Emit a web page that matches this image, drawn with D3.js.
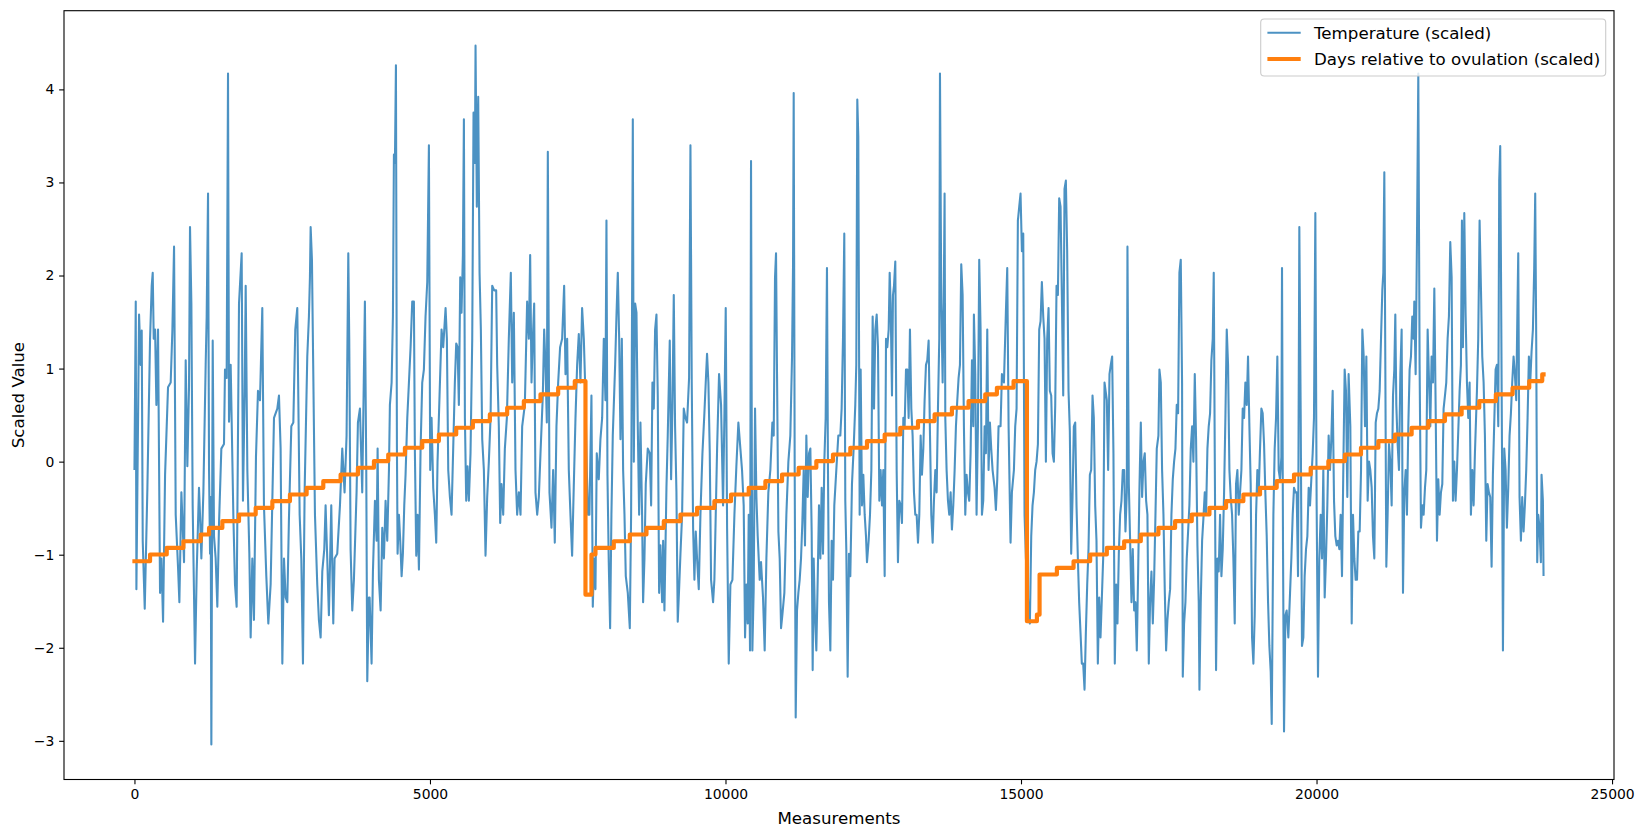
<!DOCTYPE html>
<html>
<head>
<meta charset="utf-8">
<script src="https://cdn.jsdelivr.net/npm/d3@7"></script>
<style>
  body { margin: 0; background: #fff; }
  svg { display: block; }
  text { font-family: "DejaVu Sans", sans-serif; fill: #000; }
</style>
</head>
<body>
<svg id="chart" width="1641" height="837"></svg>
<script>
// temperature readings: [measurement index, scaled temperature]
var tempReadings = [
[0,-0.09],[22,1.72],[33,-1.37],[78,1.58],[106,1.04],[123,1.41],[140,-0.85],[174,-1.58],[219,-0.28],[264,1.32],[292,1.89],[309,2.03],[326,1.32],[349,1.42],[371,0.61],[399,1.42],[433,-1.41],[456,-1.04],[484,-1.72],[518,-0.14],[568,0.80],[613,0.85],[642,1.42],[670,2.31],[698,-0.57],[737,-1.13],[760,-1.51],[794,-0.33],[839,-1.08],[867,1.09],[895,-0.05],[923,0.80],[940,2.52],[963,1.70],[985,-0.47],[1025,-2.17],[1053,-1.18],[1092,-0.28],[1109,-0.57],[1132,-1.04],[1166,-0.33],[1205,1.04],[1222,1.56],[1245,2.88],[1262,-0.09],[1279,-0.99],[1290,-0.38],[1301,-3.04],[1324,1.30],[1346,-0.80],[1374,-1.04],[1402,-1.56],[1431,-0.66],[1470,0.14],[1515,0.19],[1532,0.99],[1560,0.90],[1583,4.17],[1600,0.43],[1628,1.04],[1673,-0.57],[1701,-1.32],[1729,-1.56],[1769,1.70],[1814,2.24],[1836,-0.42],[1865,0.76],[1882,1.89],[1910,-0.09],[1944,-0.99],[1966,-1.89],[1994,-1.04],[2022,-1.70],[2056,0.05],[2090,0.76],[2124,0.66],[2163,1.65],[2191,-0.47],[2231,-1.23],[2265,-1.74],[2304,-1.32],[2361,0.47],[2417,0.57],[2445,0.71],[2473,0.14],[2502,-2.17],[2530,-1.04],[2558,-1.46],[2586,-1.51],[2614,-0.61],[2654,0.38],[2688,0.42],[2721,1.42],[2755,1.65],[2795,-0.57],[2823,-1.04],[2851,-2.17],[2879,-0.33],[2924,1.13],[2952,1.56],[2969,1.98],[2981,2.52],[3003,2.17],[3026,0.94],[3054,-0.57],[3093,-1.32],[3121,-1.70],[3150,-1.89],[3178,-1.18],[3212,-0.94],[3234,-0.47],[3262,-1.04],[3290,-1.65],[3330,-0.47],[3364,-1.74],[3386,-1.04],[3431,-0.99],[3477,-0.47],[3516,0.14],[3555,-0.33],[3589,0.28],[3618,2.24],[3634,1.32],[3657,-0.94],[3685,-1.60],[3713,-1.27],[3758,-0.33],[3781,0.42],[3815,0.57],[3854,-0.33],[3899,1.72],[3922,-0.09],[3939,-2.36],[3967,-1.46],
[3979,-1.46],[4012,-2.17],[4035,-1.18],[4069,-0.42],[4097,-0.85],[4114,0.14],[4136,-1.27],[4165,-1.60],[4193,-0.71],[4221,-1.04],[4249,-0.42],[4277,-0.85],[4306,-0.09],[4322,0.61],[4351,0.85],[4373,1.56],[4390,3.30],[4407,3.21],[4424,4.26],[4441,0.14],[4452,-0.99],[4475,-0.57],[4497,-0.85],[4520,-1.23],[4542,-0.99],[4565,-0.47],[4587,-0.14],[4616,0.47],[4644,0.85],[4672,1.23],[4700,1.72],[4728,1.72],[4745,0.09],[4768,-1.01],[4790,-0.57],[4813,-1.16],[4841,0.14],[4869,0.85],[4897,0.99],[4925,1.56],[4954,1.93],[4982,3.40],[5004,-0.09],[5027,0.47],[5055,-0.28],[5083,-0.57],[5106,-0.87],[5128,0.00],[5162,0.71],[5196,1.42],[5224,1.23],[5264,1.65],[5286,1.32],[5309,-0.09],[5337,-0.38],[5365,-0.57],[5421,0.85],[5444,1.27],[5467,1.23],[5489,0.61],[5512,1.98],[5534,1.60],[5557,2.22],[5574,3.68],[5591,0.47],[5613,-0.42],[5636,-0.05],[5658,-0.42],[5686,0.09],[5715,1.32],[5737,3.75],[5760,3.21],[5771,4.47],[5793,2.74],[5816,3.92],[5839,2.03],[5861,1.42],[5884,0.24],[5912,-0.09],[5940,-1.01],[5968,-0.38],[5996,0.00],[6025,0.47],[6053,1.89],[6087,1.84],[6120,1.84],[6137,1.04],[6165,0.38],[6188,-0.66],[6210,-0.24],[6239,-0.57],[6267,0.14],[6301,0.47],[6334,1.32],[6368,2.03],[6391,0.85],[6419,1.60],[6447,-0.09],[6475,-0.57],[6504,-0.33],[6532,-0.57],[6560,0.38],[6605,0.61],[6644,1.72],[6673,1.32],[6695,2.22],[6718,0.85],[6740,1.32],[6763,1.70],[6785,-0.33],[6814,-0.57],[6842,-0.38],[6870,0.09],[6909,0.71],[6932,1.42],[6954,1.04],[6977,0.42],[6994,3.33],[7022,-0.33],[7056,-0.71],[7084,-0.09],[7112,-0.87],[7140,0.38],[7169,0.85],[7202,1.23],[7236,1.32],[7270,1.89],[7293,0.94],[7321,1.32],[7349,-0.09],[7377,-0.57],[7405,-1.01],[7434,-0.24],[7462,0.47],[7490,1.04],[7518,1.37],[7546,0.85],[7574,1.65],[7603,1.32],[7631,0.71],[7653,-0.09],[7676,-0.57],[7698,-0.57],[7732,0.71],[7755,-1.56],[7777,-1.04],[7800,-1.37],[7822,0.09],[7856,-0.19],[7884,0.24],[7913,0.47],[7941,1.32],[7969,0.66],[7986,2.59],[8003,-0.14],[8025,-1.08],[8048,-1.79],[8070,-0.57],[8093,0.28],
[8133,1.04],[8155,1.56],[8178,2.03],[8201,1.32],[8223,0.24],[8246,1.32],[8268,-0.09],[8291,-0.57],[8313,-1.23],[8347,-1.41],[8381,-1.79],[8403,-0.57],[8420,1.79],[8432,3.68],[8449,0.00],[8471,1.70],[8494,1.60],[8516,0.38],[8539,-0.57],[8561,0.42],[8589,-0.57],[8606,-1.51],[8629,-1.04],[8651,-0.24],[8685,0.14],[8719,0.09],[8742,-0.47],[8764,0.85],[8787,0.57],[8809,1.42],[8832,1.58],[8854,0.71],[8877,-1.41],[8899,-0.90],[8928,-1.51],[8945,-0.85],[8967,-1.60],[9001,-0.28],[9023,0.28],[9057,1.30],[9080,-0.19],[9102,0.57],[9125,1.79],[9147,0.38],[9170,-0.33],[9192,-1.72],[9215,-1.37],[9238,-0.99],[9266,-0.57],[9294,0.57],[9322,0.47],[9350,0.42],[9384,0.90],[9407,3.40],[9429,0.85],[9452,-0.71],[9474,-1.27],[9497,-0.75],[9519,-1.04],[9548,-1.37],[9576,-0.57],[9610,0.09],[9643,0.52],[9672,0.94],[9688,1.16],[9711,0.85],[9734,0.09],[9756,-1.27],[9790,-1.51],[9812,-1.27],[9835,-0.57],[9858,0.14],[9891,0.94],[9925,0.61],[9959,-0.47],[9982,0.52],[10004,1.65],[10027,-0.71],[10055,-2.17],[10083,-1.32],[10117,-1.27],[10151,-0.57],[10184,-0.05],[10218,0.42],[10252,0.14],[10280,-0.09],[10308,-0.47],[10331,-1.89],[10353,-1.32],[10376,-1.74],[10393,-0.57],[10415,-2.03],[10432,3.23],[10455,-2.03],[10477,-1.37],[10500,0.57],[10523,-0.38],[10545,-0.80],[10579,-1.27],[10601,-1.08],[10635,-1.46],[10663,-2.03],[10692,-1.04],[10725,-0.33],[10759,-0.09],[10793,0.42],[10816,0.28],[10838,1.98],[10855,2.24],[10872,0.94],[10895,-0.75],[10917,-1.04],[10940,-1.79],[10962,-1.65],[10996,-1.41],[11030,-0.57],[11064,0.00],[11097,0.28],[11126,1.13],[11143,2.12],[11154,3.96],[11171,-0.09],[11188,-2.75],[11210,-1.60],[11233,-1.41],[11255,-1.27],[11278,-1.04],[11300,-0.66],[11323,-0.09],[11345,-0.90],[11368,0.28],[11391,-0.38],[11413,0.09],[11436,0.14],[11458,-0.75],[11475,-2.24],[11492,-1.04],[11515,-1.70],[11537,-2.03],[11560,-1.27],[11582,-0.47],[11605,-1.04],[11627,-0.28],[11650,-0.99],[11672,0.00],[11695,0.47],[11717,2.08],[11734,-0.09],[11751,-1.51],[11774,-2.03],[11796,-0.85],[11819,-1.27],[11841,-0.47],[11875,-0.09],[11909,0.28],[11943,0.28],[11965,0.57],[11988,1.32],[12010,2.45],[12027,-0.42],[12044,-0.94],[12067,-2.31],[12089,-0.99],[12112,-1.23],[12140,-0.24],[12168,0.14],[12196,0.61],[12213,1.04],[12230,3.89],[12247,3.49],[12270,-0.57],
[12287,0.99],[12310,-0.47],[12332,-0.14],[12355,-0.57],[12377,-0.80],[12394,-1.08],[12422,-0.85],[12445,-0.57],[12468,-0.09],[12490,1.56],[12513,0.57],[12535,1.42],[12558,1.58],[12580,1.23],[12603,-0.42],[12625,-0.09],[12648,-0.47],[12670,-0.09],[12693,-1.23],[12716,1.32],[12738,1.23],[12761,1.42],[12778,2.03],[12794,1.70],[12817,0.71],[12834,1.79],[12851,1.89],[12873,2.15],[12896,-0.09],[12918,-1.08],[12941,-0.42],[12964,-0.47],[12986,-0.66],[13009,0.47],[13031,0.38],[13054,0.99],[13076,0.99],[13099,0.47],[13121,1.42],[13144,0.57],[13166,0.28],[13189,-0.33],[13211,-0.57],[13234,-0.57],[13257,-0.87],[13279,-0.57],[13302,0.28],[13324,-0.14],[13347,0.14],[13369,0.66],[13392,1.04],[13414,1.09],[13437,1.30],[13459,0.33],[13482,-0.57],[13505,-0.87],[13527,-0.42],[13550,-0.09],[13572,-0.33],[13595,0.57],[13617,1.32],[13629,4.17],[13651,1.70],[13674,0.85],[13696,1.98],[13707,2.88],[13719,0.47],[13741,-0.09],[13764,-0.42],[13786,-0.57],[13809,-0.33],[13831,-0.73],[13854,-0.47],[13877,-0.09],[13899,0.38],[13922,0.66],[13944,0.90],[13967,1.04],[13989,2.12],[14012,1.79],[14034,0.38],[14057,-0.57],[14079,-0.14],[14102,-0.33],[14124,-0.42],[14147,0.09],[14170,1.09],[14192,0.38],[14203,1.58],[14226,0.94],[14248,-0.57],[14271,0.38],[14293,2.17],[14316,1.42],[14339,-0.57],[14361,-0.42],[14384,0.38],[14406,0.09],[14429,1.42],[14451,-0.09],[14474,0.42],[14496,0.14],[14519,-0.09],[14553,-0.28],[14575,-0.52],[14598,-0.19],[14620,0.38],[14654,0.38],[14677,0.94],[14711,0.85],[14744,1.60],[14767,2.08],[14790,0.38],[14812,-0.47],[14823,-0.87],[14846,-0.33],[14880,-0.09],[14902,0.38],[14925,0.57],[14947,2.59],[14970,2.74],[14992,2.88],[15015,2.26],[15038,2.45],[15060,-0.57],[15083,-1.04],[15105,-1.23],[15128,-1.65],[15150,-1.74],[15173,-0.80],[15195,-0.47],[15218,-0.33],[15240,-0.09],[15263,0.00],[15286,0.19],[15308,1.42],[15331,1.51],[15353,1.93],[15376,1.56],[15398,1.32],[15421,0.00],[15443,1.32],[15466,1.65],[15488,0.76],[15511,0.71],[15534,0.09],[15556,0.00],[15579,0.61],[15601,1.89],[15624,1.79],[15646,2.83],[15669,2.74],[15691,1.79],[15714,0.71],[15736,2.93],[15759,3.02],[15781,2.26],[15804,0.76],[15826,0.33],[15849,-0.99],[15872,-0.38],[15894,0.38],[15917,0.42],[15939,-0.47],[15962,-1.04],[15984,-1.51],[16007,-1.84],[16029,-2.17],[16052,-2.17],[16075,-2.45],[16097,-1.84],[16120,-1.32],[16142,-0.94],[16165,-0.14],[16187,-0.09],[16210,0.71],[16232,0.47],[16255,-0.47],[16277,-0.85],[16300,-2.17],[16323,-1.46],[16345,-1.89],[16368,-1.46],[16390,-1.04],[16413,0.85],
[16452,0.66],[16474,-0.09],[16497,0.94],[16519,1.04],[16542,1.13],[16564,0.09],[16587,-2.17],[16610,-1.32],[16632,-1.74],[16655,-0.99],[16677,-0.57],[16700,-0.42],[16722,-0.09],[16745,-0.09],[16767,-0.75],[16790,-0.33],[16801,2.31],[16824,-0.24],[16846,-0.85],[16869,-1.51],[16891,-0.94],[16914,-1.60],[16936,-1.51],[16959,-2.03],[16982,-1.18],[17004,-0.28],[17027,0.42],[17049,-0.38],[17072,0.00],[17094,0.09],[17117,-0.42],[17139,-0.57],[17162,-2.17],[17184,-1.51],[17207,-1.18],[17230,-1.74],[17252,-1.27],[17275,-0.57],[17297,0.14],[17325,0.28],[17342,0.99],[17365,0.85],[17387,-0.09],[17410,-0.57],[17432,-1.37],[17455,-2.03],[17477,-1.70],[17500,-1.51],[17523,-1.37],[17545,-0.57],[17568,-0.19],[17590,0.00],[17613,0.14],[17635,0.61],[17658,0.52],[17680,2.03],[17703,2.17],[17725,0.85],[17737,-2.31],[17759,-1.74],[17782,-1.51],[17804,-1.04],[17827,-0.75],[17849,-0.47],[17872,0.14],[17895,0.38],[17917,0.00],[17940,0.94],[17962,0.24],[17985,-0.90],[18007,-1.51],[18019,-2.45],[18041,-1.51],[18064,-0.85],[18086,-0.61],[18109,-0.33],[18131,-0.57],[18154,0.14],[18176,0.38],[18199,0.52],[18221,1.09],[18244,1.32],[18261,2.03],[18278,0.09],[18300,-2.24],[18323,-1.04],[18345,-1.18],[18368,-0.57],[18391,-1.23],[18413,-0.94],[18436,-0.33],[18458,0.47],[18481,1.42],[18503,1.04],[18526,-0.09],[18548,-0.38],[18571,-0.57],[18593,-1.04],[18616,-1.74],[18638,-0.24],[18661,-0.09],[18684,-0.57],[18706,-0.33],[18729,-0.09],[18751,0.57],[18774,0.47],[18796,0.85],[18819,0.61],[18841,1.13],[18864,0.38],[18886,-0.24],[18909,-1.89],[18932,-2.17],[18954,-1.65],[18977,-0.57],[18999,-0.09],[19022,-0.33],[19044,0.14],[19067,0.57],[19089,0.52],[19112,0.19],[19134,-0.33],[19157,-0.80],[19180,-1.51],[19202,-1.98],[19225,-2.26],[19242,-2.82],[19270,-0.57],[19292,0.14],[19315,0.47],[19337,1.13],[19360,-0.09],[19382,-0.19],[19405,0.05],[19416,2.08],[19433,-0.94],[19450,-2.90],[19473,-1.65],[19495,-1.60],[19523,-1.89],[19552,-1.41],[19574,-1.04],[19597,-0.57],[19619,-0.28],[19642,-0.33],[19664,-0.33],[19687,-1.23],[19709,2.52],[19732,0.52],[19754,-1.98],[19777,-1.89],[19799,-1.23],[19822,-0.94],[19845,-0.80],[19867,-0.28],[19890,-0.47],[19912,-0.19],[19935,0.09],[19957,0.47],[19980,2.67],[20002,-0.47],[20025,-2.31],[20047,-1.04],[20070,-0.57],[20093,-1.04],[20115,-0.09],[20138,-1.46],[20160,-1.04],[20183,-0.47],[20205,0.28],[20228,-0.09],[20250,0.24],[20273,0.76],[20296,-0.42],[20318,-0.80],[20341,-0.90],[20363,-0.85],[20386,-0.94],[20408,-0.57],[20431,-1.23],[20453,-0.09],[20476,0.99],[20498,0.76],[20521,-0.38],[20543,0.94],
[20572,0.38],[20595,-1.74],[20617,-0.57],[20640,-1.04],[20662,-1.27],[20685,-1.27],[20707,-0.75],[20730,-0.75],[20753,-0.09],[20775,1.42],[20798,1.13],[20820,0.38],[20843,1.13],[20865,-0.42],[20888,0.00],[20910,-0.09],[20933,-0.28],[20955,-0.80],[20978,-1.04],[21001,0.42],[21023,0.52],[21046,0.57],[21068,0.76],[21091,1.32],[21113,1.84],[21130,2.03],[21147,3.11],[21158,1.79],[21181,-1.13],[21203,-0.57],[21226,0.19],[21248,0.00],[21271,-0.47],[21294,0.71],[21316,0.99],[21333,1.58],[21350,0.61],[21372,0.19],[21395,-0.09],[21418,0.94],[21440,1.42],[21463,-1.41],[21485,-0.33],[21508,-0.09],[21530,-0.57],[21553,0.38],[21575,0.99],[21598,1.13],[21620,1.56],[21643,1.32],[21654,1.72],[21677,0.94],[21699,2.36],[21722,4.17],[21744,1.04],[21767,-0.71],[21790,-0.47],[21812,-0.57],[21835,-0.28],[21857,-0.09],[21880,1.42],[21902,0.90],[21925,0.38],[21947,1.13],[21970,0.85],[21993,1.86],[22015,0.61],[22038,-0.85],[22060,-0.19],[22083,-0.57],[22105,-0.33],[22128,-0.24],[22150,0.57],[22173,0.71],[22195,0.85],[22218,1.32],[22240,1.56],[22263,2.36],[22286,1.98],[22308,-0.42],[22331,0.00],[22353,-0.42],[22376,-0.09],[22421,0.76],[22443,1.04],[22460,2.59],[22477,1.23],[22500,2.67],[22522,1.60],[22545,0.85],[22567,0.47],[22590,0.85],[22612,-0.57],[22635,-0.09],[22658,-0.47],[22680,0.09],[22714,0.76],[22736,1.32],[22759,2.59],[22781,1.89],[22804,1.13],[22827,0.85],[22849,0.28],[22872,-0.85],[22894,-0.24],[22917,-0.33],[22939,-0.38],[22962,-1.13],[22984,-0.14],[23007,0.42],[23030,0.99],[23052,1.04],[23075,0.38],[23091,3.02],[23108,3.39],[23120,2.17],[23142,-0.33],[23154,-2.03],[23176,0.14],[23199,-0.09],[23221,-0.71],[23244,-0.28],[23266,0.28],[23289,0.52],[23311,0.85],[23334,1.13],[23356,0.94],[23379,0.66],[23401,1.72],[23413,2.24],[23435,-0.38],[23458,-0.85],[23480,-0.38],[23503,-0.75],[23525,-0.47],[23548,-0.09],[23571,0.47],[23593,1.13],[23616,0.85],[23638,1.18],[23661,1.42],[23683,2.08],[23700,2.88],[23717,1.32],[23734,-1.08],[23751,-0.57],[23773,-0.71],[23796,-1.08],[23807,-0.14],[23830,-0.42],[23841,-1.23]
];

// days relative to ovulation: measurement index where each day starts, and its scaled value
var ovuStart = [
0,264,546,828,1121,1262,1487,1769,2051,2333,2631,2913,3195,3488,3781,4052,4294,4576,4869,5151,5444,5726,6013,6306,6588,6870,7169,7450,
7631,7732,7800,8110,8381,8663,8956,9238,9519,9812,10094,10393,10675,10957,11238,11537,11819,12112,12394,12693,12958,13257,13538,13831,14113,14395,14592,14874,
15100,15269,15314,15607,15889,16170,16452,16745,17027,17325,17607,17889,18188,18469,18762,19044,19326,19619,19901,20200,20481,20752,21046,21327,21609,21891,22173,22455,22753,23035,23317,23599,23819
];
var ovuValue = [
-1.070,-0.998,-0.927,-0.855,-0.783,-0.712,-0.640,-0.568,-0.496,-0.425,-0.353,-0.281,-0.210,-0.138,-0.066,0.006,0.077,0.149,0.221,0.292,0.364,0.436,0.507,0.579,0.651,0.723,0.794,0.866,
-1.429,-0.998,-0.927,-0.855,-0.783,-0.712,-0.640,-0.568,-0.496,-0.425,-0.353,-0.281,-0.210,-0.138,-0.066,0.006,0.077,0.149,0.221,0.292,0.364,0.436,0.507,0.579,0.651,0.723,0.794,0.866,
-1.715,-1.644,-1.213,-1.142,-1.070,-0.998,-0.927,-0.855,-0.783,-0.712,-0.640,-0.568,-0.496,-0.425,-0.353,-0.281,-0.210,-0.138,-0.066,0.006,0.077,0.149,0.221,0.292,0.364,0.436,0.507,0.579,0.651,0.723,0.794,0.866,0.938
];

var xTicks = [0, 5000, 10000, 15000, 20000, 25000];
var yTicks = [-3, -2, -1, 0, 1, 2, 3, 4];
var seriesNames = ["Temperature (scaled)", "Days relative to ovulation (scaled)"];
var seriesColors = ["#1f77b4", "#ff7f0e"];

var svg = d3.select("#chart");
// plot area in pixels (names avoid window.top)
var plotL = 64, plotR = 1614, plotT = 10.7, plotB = 779.5;

var lastX = tempReadings[tempReadings.length - 1][0];
var x = d3.scaleLinear()
    .domain([-0.05 * lastX, 1.05 * lastX])
    .range([plotL, plotR]);

var yExt = d3.extent(tempReadings.map(function(d) { return d[1]; }).concat(ovuValue));
var yPad = (yExt[1] - yExt[0]) * 0.05;
var y = d3.scaleLinear()
    .domain([yExt[0] - yPad, yExt[1] + yPad])
    .range([plotB, plotT]);

svg.append("clipPath").attr("id", "plotclip")
  .append("rect")
    .attr("x", plotL).attr("y", plotT)
    .attr("width", plotR - plotL).attr("height", plotB - plotT);

var plot = svg.append("g").attr("clip-path", "url(#plotclip)");

var tempLine = d3.line()
    .x(function(d) { return x(d[0]); })
    .y(function(d) { return y(d[1]); });

plot.append("path")
    .datum(tempReadings)
    .attr("d", tempLine)
    .attr("fill", "none")
    .attr("stroke", seriesColors[0])
    .attr("stroke-opacity", 0.8)
    .attr("stroke-width", 2.08)
    .attr("stroke-linejoin", "round");

// step line, held until the last measurement
var ovuPoints = ovuStart.map(function(s, i) { return [s, ovuValue[i]]; });
ovuPoints.push([lastX, ovuValue[ovuValue.length - 1]]);

var ovuLine = d3.line()
    .x(function(d) { return x(d[0]); })
    .y(function(d) { return y(d[1]); })
    .curve(d3.curveStepAfter);

plot.append("path")
    .datum(ovuPoints)
    .attr("d", ovuLine)
    .attr("fill", "none")
    .attr("stroke", seriesColors[1])
    .attr("stroke-width", 4.17)
    .attr("stroke-linejoin", "round")
    .attr("stroke-linecap", "square");

// axes
var xAxis = d3.axisBottom(x)
    .tickValues(xTicks)
    .tickFormat(d3.format("d"))
    .tickSize(4.86)
    .tickPadding(4.86);

var yAxis = d3.axisLeft(y)
    .tickValues(yTicks)
    .tickFormat(d3.format("d"))
    .tickSize(4.86)
    .tickPadding(4.86);

var gx = svg.append("g")
    .attr("transform", "translate(0," + plotB + ")")
    .call(xAxis);
var gy = svg.append("g")
    .attr("transform", "translate(" + plotL + ",0)")
    .call(yAxis);

[gx, gy].forEach(function(g) {
  g.select(".domain").remove();
  g.selectAll(".tick line").attr("stroke", "#000").attr("stroke-width", 1.1);
  g.selectAll(".tick text")
    .style("font-family", "'DejaVu Sans', sans-serif")
    .style("font-size", "13.9px")
    .attr("fill", "#000");
});

svg.append("rect")
    .attr("x", plotL).attr("y", plotT)
    .attr("width", plotR - plotL).attr("height", plotB - plotT)
    .attr("fill", "none")
    .attr("stroke", "#000")
    .attr("stroke-width", 1.1);

svg.append("text")
    .attr("x", (plotL + plotR) / 2)
    .attr("y", 824)
    .attr("text-anchor", "middle")
    .style("font-size", "16.67px")
    .text("Measurements");

svg.append("text")
    .attr("transform", "translate(24," + ((plotT + plotB) / 2) + ") rotate(-90)")
    .attr("text-anchor", "middle")
    .style("font-size", "16.67px")
    .text("Scaled Value");

// legend
var legend = svg.append("g");
legend.append("rect")
    .attr("x", 1260.7).attr("y", 19)
    .attr("width", 345).attr("height", 57)
    .attr("rx", 3.5).attr("ry", 3.5)
    .attr("fill", "#fff").attr("fill-opacity", 0.8)
    .attr("stroke", "#cccccc").attr("stroke-width", 1.1);

var rows = legend.selectAll("g.row")
    .data(seriesNames)
  .enter().append("g")
    .attr("class", "row")
    .attr("transform", function(d, i) { return "translate(0," + (32.7 + i * 26.3) + ")"; });

rows.append("line")
    .attr("x1", 1267.4).attr("x2", 1300.7)
    .attr("y1", 0).attr("y2", 0)
    .attr("stroke", function(d, i) { return seriesColors[i]; })
    .attr("stroke-opacity", function(d, i) { return i === 0 ? 0.8 : 1; })
    .attr("stroke-width", function(d, i) { return i === 0 ? 2.08 : 4.17; });

rows.append("text")
    .attr("x", 1314)
    .attr("y", 6)
    .style("font-size", "16.67px")
    .text(function(d) { return d; });
</script>
</body>
</html>
